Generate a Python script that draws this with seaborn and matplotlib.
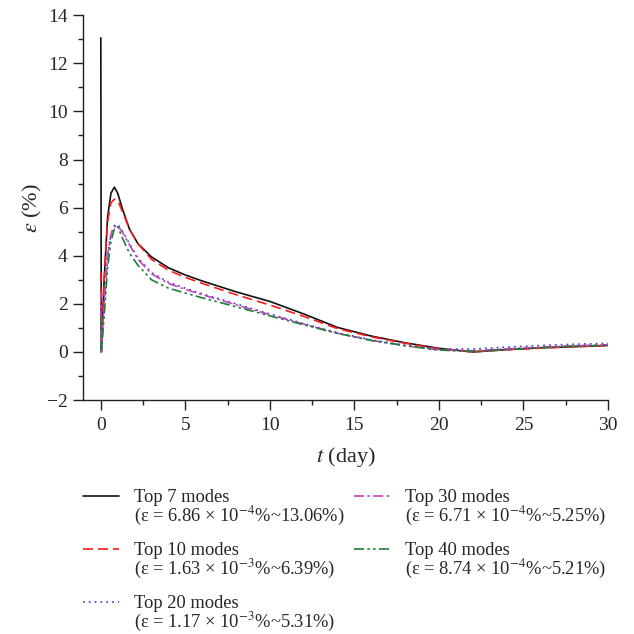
import numpy as np
import pandas as pd
import matplotlib
matplotlib.use("Agg")
import matplotlib.pyplot as plt
import seaborn as sns
from matplotlib.ticker import MultipleLocator
from matplotlib.legend_handler import HandlerLine2D
from matplotlib.transforms import Affine2D

# ---- data ----
t = [0.0, 0.03, 0.2, 0.4, 0.6, 0.8, 1.0, 1.3, 1.7, 2.2, 3.0, 4.0, 5.0, 6.0,
     8.0, 10.0, 12.0, 14.0, 16.0, 18.0, 20.0, 22.0, 24.0, 26.0, 28.0, 30.0]

top7 = [13.06, 0.0, 3.0, 5.6, 6.6, 6.85, 6.6, 5.9, 5.1, 4.5, 3.95, 3.5, 3.2, 2.95,
        2.5, 2.1, 1.58, 1.02, 0.66, 0.38, 0.15, 0.0, 0.1, 0.17, 0.22, 0.27]
top10 = [3.3, 0.0, 3.0, 5.4, 6.2, 6.35, 6.3, 5.8, 5.1, 4.5, 3.85, 3.4, 3.1, 2.85,
         2.38, 1.95, 1.48, 0.97, 0.63, 0.36, 0.13, 0.0, 0.09, 0.16, 0.22, 0.26]
top20 = [2.0, 0.0, 2.0, 4.0, 4.9, 5.25, 5.31, 5.0, 4.5, 3.9, 3.3, 2.9, 2.65, 2.42,
         2.0, 1.58, 1.18, 0.8, 0.5, 0.28, 0.12, 0.12, 0.2, 0.27, 0.32, 0.36]
top30 = [2.5, 0.0, 2.0, 4.0, 4.9, 5.2, 5.25, 4.95, 4.45, 3.85, 3.25, 2.85, 2.6, 2.38,
         1.96, 1.55, 1.16, 0.78, 0.48, 0.26, 0.08, 0.05, 0.13, 0.2, 0.26, 0.3]
top40 = [1.5, 0.0, 1.5, 3.5, 4.6, 5.1, 5.21, 4.7, 4.1, 3.6, 3.0, 2.65, 2.45, 2.25,
         1.88, 1.5, 1.13, 0.77, 0.48, 0.26, 0.08, 0.02, 0.1, 0.18, 0.24, 0.28]

labels = [
    "Top 7 modes\n(ε = 6.86 × 10$^{-4}$%~13.06%)",
    "Top 10 modes\n(ε = 1.63 × 10$^{-3}$%~6.39%)",
    "Top 20 modes\n(ε = 1.17 × 10$^{-3}$%~5.31%)",
    "Top 30 modes\n(ε = 6.71 × 10$^{-4}$%~5.25%)",
    "Top 40 modes\n(ε = 8.74 × 10$^{-4}$%~5.21%)",
]
series = [top7, top10, top20, top30, top40]

colors = ["#111111", "#ff1a1a", "#3a3ad0", "#c244c2", "#1d7f35"]
styles = ["-", (0, (6, 3)), (0, (1, 2.5)), (0, (6, 2, 1.5, 2)), (0, (6, 2, 1.5, 2, 1.5, 2))]

# ---- style ----
sns.set_style("ticks")
plt.rcParams["font.family"] = ["Liberation Serif", "DejaVu Serif"]
plt.rcParams["mathtext.fontset"] = "stix"

fig = plt.figure(figsize=(6.34, 6.34), dpi=100)
ax = fig.add_axes([0.131, 0.369, 0.828, 0.607])

for vals, lab, c, ls in zip(series, labels, colors, styles):
    df = pd.DataFrame({"t": t, "e": vals})
    sns.lineplot(data=df, x="t", y="e", ax=ax, color=c, linestyle=ls,
                 linewidth=1.2, label=lab, sort=False, estimator=None)

ax.set_xlim(-1.05, 30)
ax.set_ylim(-2, 14)
ax.xaxis.set_major_locator(MultipleLocator(5))
ax.xaxis.set_minor_locator(MultipleLocator(2.5))
ax.yaxis.set_major_locator(MultipleLocator(2))
ax.yaxis.set_minor_locator(MultipleLocator(1))
ax.tick_params(axis="both", which="major", length=7, width=1, labelsize=14, color="#222222")
ax.tick_params(axis="both", which="minor", length=3.5, width=1, color="#222222")
ax.tick_params(axis="x", which="major", pad=5)
ax.tick_params(axis="y", which="major", pad=4)
ax.set_yticks([-2, 0, 2, 4, 6, 8, 10, 12, 14])
ax.set_yticklabels(["−2", "0", "2", "4", "6", "8", "10", "12", "14"])
for s in ["top", "right"]:
    ax.spines[s].set_visible(False)
for s in ["left", "bottom"]:
    ax.spines[s].set_linewidth(1.0)
    ax.spines[s].set_color("#222222")

ax.set_xlabel("$t$ (day)", fontsize=16, labelpad=8)
ax.set_ylabel("$\\varepsilon$ (%)", fontsize=16, labelpad=2)


class TopHandler(HandlerLine2D):
    """Place the legend line next to the first line of a two-line label."""
    def create_artists(self, legend, orig_handle, xdescent, ydescent,
                       width, height, fontsize, trans):
        arts = super().create_artists(legend, orig_handle, xdescent, ydescent,
                                      width, height, fontsize, trans)
        shift = Affine2D().translate(0, 9)
        for a in arts:
            a.set_transform(shift + trans)
        return arts


handles, labs = ax.get_legend_handles_labels()
ax.legend_.remove()
leg = fig.legend(handles, labs, loc="upper left", bbox_to_anchor=(0.131, 0.229),
                 ncol=2, frameon=False, fontsize=13.3, handlelength=1.95,
                 handletextpad=0.8, columnspacing=0.55, labelspacing=0.76,
                 borderpad=0, borderaxespad=0,
                 handler_map={h: TopHandler() for h in handles})
for txt in leg.get_texts():
    txt.set_linespacing(0.93)

fig.savefig("out.png", dpi=100)
